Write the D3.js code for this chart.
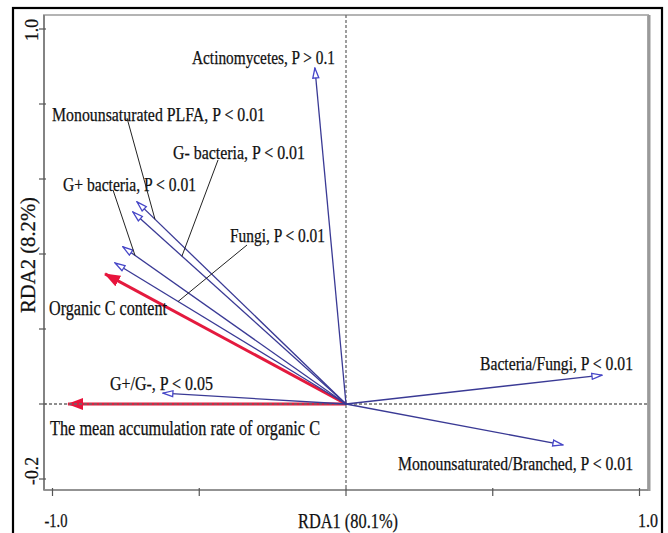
<!DOCTYPE html>
<html>
<head>
<meta charset="utf-8">
<script src="https://cdn.jsdelivr.net/npm/d3@7"></script>
<style>
  html, body { margin: 0; padding: 0; background: #fff; }
  svg { display: block; }
  text { font-family: "Liberation Serif", "Times New Roman", serif; fill: #111; stroke: #111; stroke-width: 0.25px; }
</style>
</head>
<body>
<svg id="chart" width="668" height="533"></svg>
<script>
// Response variables (microbial PLFA groups) with their RDA scores
const species = ["Actinomycetes", "Monounsaturated PLFA", "G- bacteria", "G+ bacteria",
                 "Fungi", "G+/G-", "Bacteria/Fungi", "Monounsaturated/Branched"];
const pValues = ["P > 0.1", "P < 0.01", "P < 0.01", "P < 0.01",
                 "P < 0.01", "P < 0.05", "P < 0.01", "P < 0.01"];
const rda1 = [-0.106, -0.712, -0.726, -0.760, -0.787, -0.624, 0.872, 0.739];
const rda2 = [0.896, 0.539, 0.512, 0.419, 0.376, 0.029, 0.077, -0.109];

// Explanatory variables
const envVars = ["Organic C content", "The mean accumulation rate of organic C"];
const envRda1 = [-0.821, -0.947];
const envRda2 = [0.347, 0.0];

// Axis text
const xTicks = [-1, -0.5, 0, 0.5, 1];
const yTicks = [-0.2, 0, 0.2, 0.4, 0.6, 0.8, 1.0];
const xTickLabels = ["-1.0", "1.0"];
const yTickLabels = ["-0.2", "1.0"];
const xTitle = "RDA1 (80.1%)";
const yTitle = "RDA2 (8.2%)";

const svg = d3.select("#chart");
const x = d3.scaleLinear().domain([-1, 1]).range([52.5, 639.5]);
const y = d3.scaleLinear().domain([-0.2, 1]).range([479, 29]);

const box = { left: 44, right: 648, top: 15, bottom: 490 };

// Outer frame
svg.append("rect").attr("x", 13).attr("y", 8).attr("width", 649).attr("height", 540)
  .attr("fill", "none").attr("stroke", "#000").attr("stroke-width", 2.2);

// Plot box
svg.append("rect").attr("x", box.left).attr("y", box.top)
  .attr("width", box.right - box.left).attr("height", box.bottom - box.top)
  .attr("fill", "#fff").attr("stroke", "#b4b4b4").attr("stroke-width", 2);
svg.append("line").attr("x1", box.right + 1).attr("x2", box.right + 1)
  .attr("y1", box.top).attr("y2", box.bottom + 1)
  .attr("stroke", "#9a9a9a").attr("stroke-width", 3);
svg.append("line").attr("x1", box.left).attr("x2", box.left)
  .attr("y1", box.top).attr("y2", box.bottom)
  .attr("stroke", "#777").attr("stroke-width", 1.6);
svg.append("line").attr("x1", box.left).attr("x2", box.right)
  .attr("y1", box.bottom).attr("y2", box.bottom)
  .attr("stroke", "#888").attr("stroke-width", 1.6);

// Axis ticks
svg.selectAll(".ytick").data(yTicks).join("line")
  .attr("x1", box.left - 5).attr("x2", box.left + 2)
  .attr("y1", d => y(d)).attr("y2", d => y(d))
  .attr("stroke", "#555").attr("stroke-width", 1.2);
svg.selectAll(".xtick").data(xTicks).join("line")
  .attr("x1", d => x(d)).attr("x2", d => x(d))
  .attr("y1", box.bottom - 2).attr("y2", box.bottom + 6)
  .attr("stroke", "#555").attr("stroke-width", 1.2);

// Tick labels
svg.append("text").attr("x", 56).attr("y", 527).attr("text-anchor", "middle")
  .attr("font-size", 19).attr("textLength", 23).attr("lengthAdjust", "spacingAndGlyphs")
  .text(xTickLabels[0]);
svg.append("text").attr("x", 648).attr("y", 527).attr("text-anchor", "middle")
  .attr("font-size", 19).attr("textLength", 20).attr("lengthAdjust", "spacingAndGlyphs")
  .text(xTickLabels[1]);
svg.append("text").attr("transform", "translate(38,471) rotate(-90)").attr("text-anchor", "middle")
  .attr("font-size", 19).attr("textLength", 28).attr("lengthAdjust", "spacingAndGlyphs")
  .text(yTickLabels[0]);
svg.append("text").attr("transform", "translate(38,30) rotate(-90)").attr("text-anchor", "middle")
  .attr("font-size", 19).attr("textLength", 22).attr("lengthAdjust", "spacingAndGlyphs")
  .text(yTickLabels[1]);

// Axis titles
svg.append("text").attr("x", 348).attr("y", 528).attr("text-anchor", "middle")
  .attr("font-size", 20).attr("textLength", 100).attr("lengthAdjust", "spacingAndGlyphs")
  .text(xTitle);
svg.append("text").attr("transform", "translate(35,255) rotate(-90)").attr("text-anchor", "middle")
  .attr("font-size", 20).attr("textLength", 116).attr("lengthAdjust", "spacingAndGlyphs")
  .text(yTitle);

// Arrow heads
const defs = svg.append("defs");
defs.append("marker").attr("id", "openHead")
  .attr("viewBox", "0 0 12 8").attr("refX", 11).attr("refY", 4)
  .attr("markerWidth", 12).attr("markerHeight", 8).attr("markerUnits", "userSpaceOnUse")
  .attr("orient", "auto")
  .append("path").attr("d", "M1,1 L11,4 L1,7 Z")
  .attr("fill", "#fff").attr("stroke", "#4646c8").attr("stroke-width", 1.3);
defs.append("marker").attr("id", "redHead")
  .attr("viewBox", "0 0 16 12").attr("refX", 15).attr("refY", 6)
  .attr("markerWidth", 16).attr("markerHeight", 12).attr("markerUnits", "userSpaceOnUse")
  .attr("orient", "auto")
  .append("path").attr("d", "M0,0 L16,6 L0,12 Z").attr("fill", "#e8143c");

const ox = x(0), oy = y(0);

// Explanatory arrows (red, filled heads)
svg.selectAll(".env").data(envVars).join("line")
  .attr("x1", ox).attr("y1", oy)
  .attr("x2", (d, i) => x(envRda1[i])).attr("y2", (d, i) => y(envRda2[i]))
  .attr("stroke", "#e41a3e").attr("stroke-width", 3)
  .attr("marker-end", "url(#redHead)");

// Reference dashed lines through the origin
svg.append("line").attr("x1", box.left).attr("x2", box.right).attr("y1", oy).attr("y2", oy)
  .attr("stroke", "#6a6a6a").attr("stroke-width", 1.3).attr("stroke-dasharray", "3,2");
svg.append("line").attr("x1", ox).attr("x2", ox).attr("y1", box.top).attr("y2", box.bottom)
  .attr("stroke", "#6a6a6a").attr("stroke-width", 1.3).attr("stroke-dasharray", "3,2");

// Response arrows (blue, open heads)
svg.selectAll(".sp").data(species).join("line")
  .attr("x1", ox).attr("y1", oy)
  .attr("x2", (d, i) => x(rda1[i])).attr("y2", (d, i) => y(rda2[i]))
  .attr("stroke", "#3a3a95").attr("stroke-width", 1.3)
  .attr("marker-end", "url(#openHead)");

// Label placement: [start x, baseline y, text length, font size]
const spLabelPos = [
  [192, 64, 143, 19], [52, 121, 213, 19], [173, 159, 132, 19], [63, 191, 133, 19],
  [230, 242, 95, 19], [110, 390, 103, 19], [480, 370, 153, 19], [398, 470, 235, 19]
];
const envLabelPos = [[49, 315, 118, 20], [50, 435, 270, 20]];

svg.selectAll(".spLabel").data(species).join("text")
  .attr("x", (d, i) => spLabelPos[i][0]).attr("y", (d, i) => spLabelPos[i][1])
  .attr("font-size", (d, i) => spLabelPos[i][3])
  .attr("textLength", (d, i) => spLabelPos[i][2]).attr("lengthAdjust", "spacingAndGlyphs")
  .text((d, i) => `${d}, ${pValues[i]}`);
svg.selectAll(".envLabel").data(envVars).join("text")
  .attr("x", (d, i) => envLabelPos[i][0]).attr("y", (d, i) => envLabelPos[i][1])
  .attr("font-size", (d, i) => envLabelPos[i][3])
  .attr("textLength", (d, i) => envLabelPos[i][2]).attr("lengthAdjust", "spacingAndGlyphs")
  .text(d => d);

// Leader lines from labels to arrow shafts: [species index, start x, start y, fraction along arrow]
const leaders = [[1, 127, 118, 0.914], [2, 218, 160, 0.77], [3, 113, 190, 0.946], [4, 247, 245, 0.727]];
svg.selectAll(".leader").data(leaders).join("line")
  .attr("x1", d => d[1]).attr("y1", d => d[2])
  .attr("x2", d => x(rda1[d[0]] * d[3])).attr("y2", d => y(rda2[d[0]] * d[3]))
  .attr("stroke", "#222").attr("stroke-width", 1);
</script>
</body>
</html>
